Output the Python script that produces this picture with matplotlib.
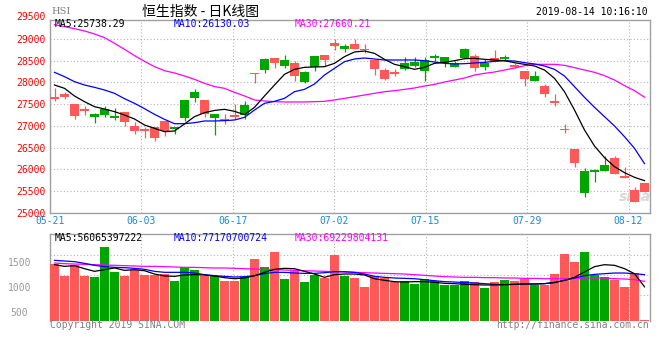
import matplotlib
matplotlib.use('Agg')
import matplotlib.pyplot as plt
import numpy as np

# ---------------- data ----------------
tick_labels = ['05-21', '06-03', '06-17', '07-02', '07-15', '07-29', '08-12']
tick_index = [0, 9, 18, 28, 37, 47, 57]

opens = [27672, 27734, 27503, 27381, 27212, 27258, 27181, 27319, 26997, 26920,
         26966, 27120, 26920, 27189, 27649, 27596, 27189, 27158, 27250, 27250,
         28225, 28286, 28555, 28386, 28448, 28018, 28348, 28632, 28916, 28762,
         28885, 28770, 28517, 28286, 28248, 28309, 28386, 28271, 28571, 28440,
         28363, 28571, 28617, 28363, 28555, 28540, 28402, 28271, 28033, 27926,
         27573, 26928, 26467, 25446, 25945, 25968, 26268, 25853, 25523, 25692]
highs = [27864, 27772, 27503, 27457, 27304, 27465, 27404, 27319, 27097, 26966,
         26981, 27120, 26981, 27588, 27857, 27596, 27273, 27265, 27503, 27580,
         28225, 28570, 28570, 28640, 28486, 28271, 28609, 28632, 28993, 28885,
         28993, 28885, 28517, 28325, 28309, 28578, 28578, 28578, 28655, 28578,
         28501, 28793, 28647, 28532, 28747, 28632, 28455, 28271, 28271, 27956,
         27734, 27035, 26467, 26037, 26006, 26306, 26314, 26052, 25600, 25692]
lows = [27580, 27626, 27150, 27258, 27074, 27204, 27135, 26997, 26820, 26713,
        26644, 26774, 26820, 27120, 27550, 27196, 26797, 27035, 27166, 27166,
        27979, 28225, 28340, 28340, 28033, 27979, 28271, 28386, 28747, 28709,
        28762, 28670, 28171, 28056, 28156, 28286, 28363, 28033, 28494, 28363,
        28363, 28571, 28263, 28286, 28478, 28517, 28325, 27918, 28033, 27672,
        27457, 26843, 26060, 25369, 25715, 25968, 25899, 25791, 25254, 25484]
closes = [27619, 27672, 27235, 27334, 27273, 27388, 27235, 27097, 26874, 26882,
          26728, 26874, 26966, 27588, 27787, 27281, 27273, 27120, 27212, 27480,
          28187, 28540, 28448, 28517, 28156, 28233, 28609, 28524, 28847, 28839,
          28778, 28747, 28309, 28079, 28187, 28440, 28478, 28517, 28617, 28578,
          28440, 28762, 28340, 28455, 28478, 28578, 28363, 28079, 28148, 27734,
          27534, 26897, 26137, 25960, 25983, 26099, 25899, 25791, 25254, 25484]

ma5 = [27941, 27864, 27688, 27557, 27442, 27388, 27327, 27250, 27158, 27020,
       26943, 26866, 26882, 27043, 27212, 27304, 27355, 27381, 27334, 27258,
       27427, 27688, 27941, 28187, 28302, 28348, 28356, 28363, 28440, 28594,
       28701, 28724, 28670, 28532, 28417, 28363, 28302, 28348, 28440, 28463,
       28501, 28547, 28555, 28532, 28517, 28501, 28455, 28417, 28379, 28286,
       28095, 27787, 27365, 26905, 26536, 26268, 26060, 25922, 25815, 25738]
ma10 = [28233, 28133, 28018, 27941, 27887, 27826, 27749, 27626, 27519, 27396,
        27265, 27150, 27050, 27050, 27073, 27112, 27112, 27120, 27135, 27196,
        27365, 27519, 27565, 27634, 27787, 27841, 27964, 28171, 28325, 28478,
        28540, 28563, 28540, 28517, 28517, 28517, 28517, 28501, 28471, 28440,
        28425, 28432, 28448, 28463, 28486, 28501, 28494, 28455, 28425, 28379,
        28302, 28148, 27903, 27657, 27427, 27212, 26997, 26751, 26482, 26130]
ma30 = [29331, 29285, 29238, 29185, 29116, 29031, 28901, 28762, 28617, 28486,
        28363, 28271, 28217, 28148, 28071, 27979, 27905, 27864, 27772, 27688,
        27596, 27573, 27557, 27550, 27550, 27550, 27557, 27565, 27596, 27634,
        27672, 27711, 27749, 27787, 27810, 27841, 27872, 27918, 27956, 28010,
        28056, 28102, 28171, 28210, 28240, 28286, 28332, 28386, 28417, 28417,
        28417, 28394, 28340, 28286, 28233, 28156, 28056, 27926, 27810, 27660]

volume = [1461, 1225, 1447, 1225, 1198, 1806, 1306, 1225, 1340, 1239,
          1232, 1259, 1124, 1401, 1347, 1225, 1225, 1124, 1124, 1192,
          1569, 1401, 1704, 1158, 1326, 1104, 1246, 1178, 1650, 1225,
          1178, 996, 1225, 1178, 1091, 1124, 1063, 1158, 1111, 1043,
          1043, 1124, 1097, 976, 1097, 1138, 1124, 1151, 1043, 1043,
          1259, 1671, 1502, 1704, 1246, 1198, 1144, 996, 1279, 335]
vol_ma5 = [1448, 1414, 1428, 1367, 1313, 1347, 1381, 1333, 1347, 1326,
           1259, 1219, 1212, 1239, 1246, 1239, 1219, 1185, 1164, 1178,
           1225, 1293, 1354, 1374, 1367, 1313, 1259, 1192, 1246, 1259,
           1259, 1239, 1164, 1131, 1104, 1097, 1104, 1104, 1091, 1070,
           1064, 1050, 1043, 1037, 1037, 1043, 1050, 1057, 1057, 1064,
           1084, 1131, 1192, 1300, 1408, 1448, 1435, 1367, 1266, 1000]
vol_ma10 = [1536, 1522, 1509, 1475, 1435, 1408, 1394, 1387, 1374, 1354,
            1313, 1293, 1293, 1293, 1279, 1246, 1225, 1212, 1198, 1205,
            1225, 1266, 1293, 1293, 1279, 1272, 1272, 1286, 1306, 1306,
            1293, 1259, 1212, 1192, 1178, 1171, 1164, 1144, 1124, 1104,
            1097, 1084, 1077, 1064, 1050, 1043, 1050, 1057, 1057, 1064,
            1091, 1131, 1178, 1225, 1252, 1266, 1279, 1279, 1266, 1246]
vol_ma30 = [1482, 1468, 1461, 1455, 1448, 1441, 1435, 1428, 1421, 1414,
            1414, 1408, 1401, 1394, 1394, 1387, 1381, 1381, 1374, 1367,
            1360, 1354, 1347, 1340, 1333, 1326, 1320, 1313, 1306, 1300,
            1293, 1286, 1279, 1272, 1266, 1259, 1246, 1232, 1219, 1205,
            1198, 1192, 1192, 1185, 1185, 1178, 1178, 1171, 1171, 1164,
            1164, 1164, 1171, 1178, 1178, 1178, 1164, 1158, 1144, 1111]

price_ticks = [25000, 25500, 26000, 26500, 27000, 27500, 28000, 28500, 29000]
price_top_label = 29500
vol_ticks = [1500, 1000, 500]

title = '恒生指数 - 日K线图'
symbol = 'HSI'
timestamp = '2019-08-14 10:16:10'
ma_labels = ['MA5:25738.29', 'MA10:26130.03', 'MA30:27660.21']
vol_ma_labels = ['MA5:56065397222', 'MA10:77170700724', 'MA30:69229804131']

# ---------------- style ----------------
RED = '#ff5858'
GREEN = '#00a600'
GRID = '#b4b4b4'
FRAME = '#a0a0a0'
MONO = 'DejaVu Sans Mono'
CJK = ['Noto Sans CJK SC', 'DejaVu Sans']
W, H = 660, 360
VOL_FLOOR = 314  # value at the bottom edge of the volume panel

fig = plt.figure(figsize=(6.6, 3.6), dpi=100)
fig.patch.set_facecolor('white')


def fx(px):
    return px / W


def fy(py):
    return 1 - py / H


ax = fig.add_axes([fx(50), fy(212.7), (649.5 - 50) / W, (212.7 - 20) / H])
axv = fig.add_axes([fx(50), fy(320.7), (649.5 - 50) / W, (320.7 - 234) / H])

x = np.arange(len(closes))
o = np.array(opens, float)
c = np.array(closes, float)
hi = np.array(highs, float)
lo = np.array(lows, float)
cols = np.where(c > o, GREEN, RED)

grid_x = [i * 1.015 - 0.45 for i in tick_index]

# ---- price panel ----
ax.set_xlim(-0.45, 59.5)
ax.set_ylim(25000, 29438)
ax.set_axisbelow(True)
ax.vlines(x, lo, hi, colors=cols, lw=0.9, zorder=3)
body_bottom = np.minimum(o, c)
body_h = np.maximum(np.abs(c - o), 30)
ax.bar(x, body_h, bottom=body_bottom, width=0.9, color=cols, lw=0, zorder=4)
ax.plot(x, ma30, color='#ff00ff', lw=0.9, zorder=5)
ax.plot(x, ma10, color='#0000ff', lw=0.9, zorder=5)
ax.plot(x, ma5, color='black', lw=0.9, zorder=6)

ax.set_yticks(price_ticks)
ax.set_yticklabels([str(t) for t in price_ticks])
ax.set_xticks(grid_x)
ax.set_xticklabels(tick_labels)
ax.grid(True, color=GRID, ls=(0, (1, 2)), lw=0.8)
ax.tick_params(axis='both', length=0, labelsize=7)
ax.tick_params(axis='y', colors='#ff0000', pad=2.9)
ax.tick_params(axis='x', colors='#1a8ad4', pad=2.6)
for lab in ax.get_xticklabels() + ax.get_yticklabels():
    lab.set_family(MONO)
for s in ax.spines.values():
    s.set_color(FRAME)
    s.set_linewidth(1)
ax.annotate(str(price_top_label), xy=(0, price_top_label),
            xycoords=('axes fraction', 'data'), xytext=(-2.9, 0),
            textcoords='offset points', ha='right', va='center',
            color='#ff0000', fontsize=7, family=MONO, annotation_clip=False)

# watermark
ax.text(0.975, 0.08, 'sina', transform=ax.transAxes, fontsize=10,
        color='#d8d8d8', style='italic', weight='bold', ha='center',
        va='center', zorder=2)

# ---- volume panel ----
vol = np.array(volume, float)
axv.set_xlim(-0.45, 59.5)
axv.set_ylim(VOL_FLOOR, 2069)
axv.set_axisbelow(True)
axv.bar(x, vol - VOL_FLOOR, bottom=VOL_FLOOR, width=0.9, color=cols, lw=0,
        zorder=3)
axv.plot(x, vol_ma30, color='#ff00ff', lw=0.9, zorder=5)
axv.plot(x, vol_ma10, color='#0000ff', lw=0.9, zorder=5)
axv.plot(x, vol_ma5, color='black', lw=0.9, zorder=6)
axv.set_xticks(grid_x)
axv.set_xticklabels([])
axv.set_yticks(vol_ticks)
axv.set_yticklabels([str(v) for v in vol_ticks])
axv.grid(True, axis='x', color=GRID, ls=(0, (1, 2)), lw=0.8)
for py in (254.7, 274.7, 294.7):
    f = (320.7 - py) / (320.7 - 234)
    axv.plot([0, 1], [f, f], transform=axv.transAxes, color=GRID,
             ls=(0, (1, 2)), lw=0.8, zorder=1)
axv.tick_params(axis='both', length=0, labelsize=7)
axv.tick_params(axis='y', colors='#9a9a9a', pad=22)
for lab in axv.get_yticklabels():
    lab.set_family(MONO)
    lab.set_horizontalalignment('center')
for k, s in axv.spines.items():
    s.set_color(FRAME)
    s.set_linewidth(1)
axv.spines['bottom'].set_visible(False)

# ---------------- texts ----------------
fig.text(fx(51), fy(12), symbol, family='DejaVu Serif', fontsize=7,
         color='#808080', ha='left', va='center')
fig.text(fx(201), fy(12), title, family=CJK, fontsize=10, color='black',
         ha='center', va='center')
fig.text(fx(648), fy(12), timestamp, family=MONO, fontsize=7, color='black',
         ha='right', va='center')
for lbl, px, col in zip(ma_labels, (55, 174, 295), ('black', '#0000ff', '#ff00ff')):
    fig.text(fx(px), fy(24), lbl, family=MONO, fontsize=7, color=col,
             ha='left', va='center')
for lbl, px, col in zip(vol_ma_labels, (55, 174, 295), ('black', '#0000ff', '#ff00ff')):
    fig.text(fx(px), fy(238), lbl, family=MONO, fontsize=7, color=col,
             ha='left', va='center')
fig.text(fx(50), fy(325), 'Copyright 2019 SINA.COM', family=MONO, fontsize=7,
         color='#808080', ha='left', va='center')
fig.text(fx(649), fy(325), 'http://finance.sina.com.cn', family=MONO,
         fontsize=7, color='#808080', ha='right', va='center')

fig.savefig('out.png', dpi=100, facecolor='white')
